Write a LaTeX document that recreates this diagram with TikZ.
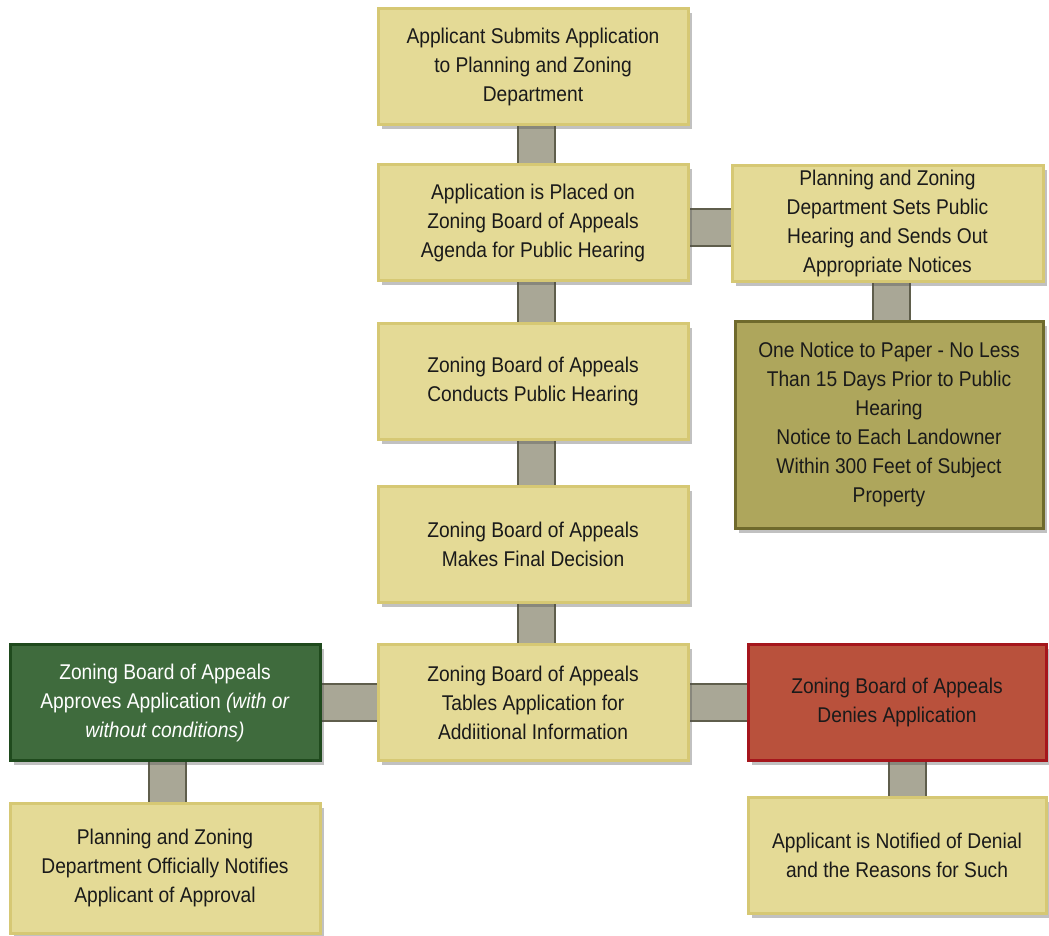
\documentclass[tikz,border=0pt]{standalone}
\usepackage{fontspec}
\setmainfont[FakeStretch=0.9]{Liberation Sans}
\usetikzlibrary{shadows,backgrounds}
\definecolor{boxfill}{HTML}{E4DA96}
\definecolor{boxline}{HTML}{D6C874}
\definecolor{olivefill}{HTML}{AEA65C}
\definecolor{oliveline}{HTML}{6F6A2C}
\definecolor{greenfill}{HTML}{3F6B3D}
\definecolor{greenline}{HTML}{1F4A1D}
\definecolor{redfill}{HTML}{B9513C}
\definecolor{redline}{HTML}{A5161C}
\definecolor{connfill}{HTML}{A9A796}
\definecolor{connline}{HTML}{5F5E4C}
\definecolor{txt}{HTML}{1A1A1A}
\begin{document}
\begin{tikzpicture}[x=0.75pt,y=-0.75pt,
 box/.style={rectangle, draw=boxline, fill=boxfill, line width=2.25pt, align=center,
   text=txt, font=\fontsize{16}{21.75}\selectfont, inner sep=0pt,
   minimum width=232.5pt, minimum height=87pt,
   drop shadow={shadow xshift=3pt, shadow yshift=-3.5pt, opacity=0.35, fill=black!70}},
 olivebox/.style={box, draw=oliveline, fill=olivefill},
 greenbox/.style={box, draw=greenline, fill=greenfill, text=white},
 redbox/.style={box, draw=redline, fill=redfill},
 conn/.style={line width=1.5pt, draw=connline, double=connfill, double distance=26.25pt}
]
\useasboundingbox (0,0) rectangle (1049,935);

\node[box] (b1) at (533,66.5) {Applicant Submits Application\\to Planning and Zoning\\Department};
\node[box] (b2) at (533,222.5) {Application is Placed on\\Zoning Board of Appeals\\Agenda for Public Hearing};
\node[box, minimum width=233.25pt] (b3) at (887.5,223) {Planning and Zoning\\Department Sets Public\\Hearing and Sends Out\\Appropriate Notices};
\node[olivebox, minimum width=231pt, minimum height=155.25pt] (b4) at (889,424.5) {One Notice to Paper - No Less\\Than 15 Days Prior to Public\\Hearing\\Notice to Each Landowner\\Within 300 Feet of Subject\\Property};
\node[box] (b5) at (533,381.5) {Zoning Board of Appeals\\Conducts Public Hearing};
\node[box] (b6) at (533,544.5) {Zoning Board of Appeals\\Makes Final Decision};
\node[box] (b7) at (533,702.5) {Zoning Board of Appeals\\Tables Application for\\Addiitional Information};
\node[greenbox] (ga) at (165,702.5) {Zoning Board of Appeals\\Approves Application \textit{(with or}\\\textit{without conditions)}};
\node[box, minimum height=97.5pt] (gn) at (165,868) {Planning and Zoning\\Department Officially Notifies\\Applicant of Approval};
\node[redbox, minimum width=223.5pt] (rd) at (897,702.5) {Zoning Board of Appeals\\Denies Application};
\node[box, minimum width=223.5pt] (rn) at (897,855) {Applicant is Notified of Denial\\and the Reasons for Such};

\begin{pgfonlayer}{background}
\draw[conn] ([xshift=2.6pt]b1.south) -- ([xshift=2.6pt]b2.north);
\draw[conn] ([xshift=2.6pt]b2.south) -- ([xshift=2.6pt]b5.north);
\draw[conn] ([xshift=2.6pt]b5.south) -- ([xshift=2.6pt]b6.north);
\draw[conn] ([xshift=2.6pt]b6.south) -- ([xshift=2.6pt]b7.north);
\draw[conn] ([yshift=-3.4pt]b2.east) -- ([yshift=-3.4pt]b2.east -| b3.west);
\draw[conn] ([xshift=3pt]b3.south) -- ([xshift=3pt]b3.south |- b4.north);
\draw[conn] (b7.west) -- (b7.west -| ga.east);
\draw[conn] (b7.east) -- (b7.east -| rd.west);
\draw[conn] ([xshift=1.5pt]ga.south) -- ([xshift=1.5pt]gn.north);
\draw[conn] ([xshift=7.9pt]rd.south) -- ([xshift=7.9pt]rd.south |- rn.north);
\end{pgfonlayer}
\end{tikzpicture}
\end{document}
